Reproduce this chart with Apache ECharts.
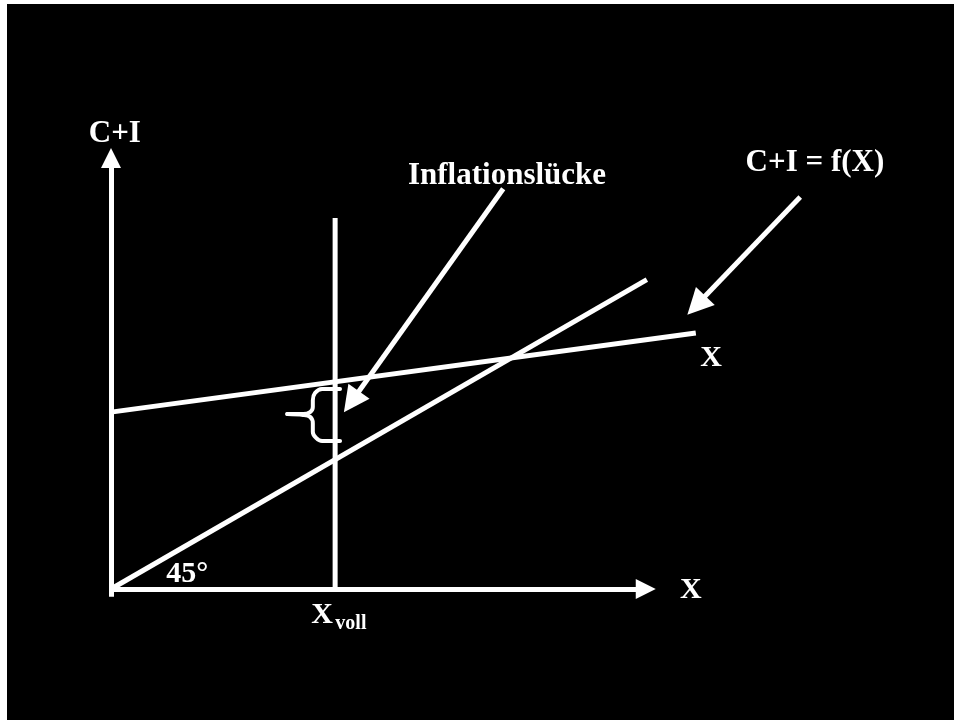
<!DOCTYPE html>
<html>
<head>
<meta charset="utf-8">
<script src="https://cdn.jsdelivr.net/npm/echarts@6/dist/echarts.min.js"></script>
<style>
  html, body { margin: 0; padding: 0; background: #fff; }
  #chart { position: absolute; left: 7px; top: 4px; width: 947px; height: 716px; background: #000; }
</style>
</head>
<body>
<div id="chart"></div>
<script>
// axes (shaft ends, arrowheads are added by the symbol)
const axisX = [[0, 0], [98.3, 0]];
const axisY = [[0, -2.5], [0, 137.2]];

// 45° line, aggregate demand C+I = f(X), full-employment output
const line45 = [[0, 0], [98.5, 98.5]];
const demandLine = [[0, 56.3], [107.5, 81.5]];
const fullEmployment = [[41.2, 0], [41.2, 118.1]];

// brace marking the gap
const braceTop = [[42.1, 63.7], [38.8, 63.7], [37.5, 62.4], [37.1, 60.1], [37.1, 57.9], [36.6, 56.3], [35.3, 55.7], [32.4, 55.7]];
const braceBottom = [[32.4, 55.7], [35.3, 55.4], [36.6, 54.8], [37.1, 52.8], [37.1, 50.0], [37.7, 48.1], [38.8, 47.1], [42.1, 47.1]];

// pointer arrows
const gapArrow = [[72.1, 127.4], [44.2, 59.6]];
const demandArrow = [[126.7, 124.8], [107.6, 90.3]];

// annotations
const labelTexts = ['C+I', 'Inflationslücke', 'C+I = f(X)', 'X', 'X', '45°', 'X'];
const labelAnchors = [[0.7, 144.9], [72.8, 131.6], [129.4, 135.6], [110.3, 73.5], [106.6, -0.3], [14.0, 4.8], [38.8, -8.3]];
const subText = 'voll';
const subAnchor = [44.1, -11.1];

const chart = echarts.init(document.getElementById('chart'));

const white = '#ffffff';
const font = '"Liberation Serif", "Times New Roman", serif';

function plainLine(data, width) {
  return {
    type: 'line',
    data: data,
    showSymbol: false,
    symbol: 'none',
    clip: false,
    silent: true,
    lineStyle: { color: white, width: width || 5, cap: 'butt' },
  };
}

function braceLine(data) {
  return {
    type: 'line',
    data: data,
    smooth: 0.35,
    showSymbol: false,
    symbol: 'none',
    clip: false,
    silent: true,
    lineStyle: { color: white, width: 4, cap: 'round', join: 'round' },
  };
}

function arrowLines(list, size) {
  return {
    type: 'lines',
    coordinateSystem: 'cartesian2d',
    clip: false,
    silent: true,
    symbol: ['none', 'triangle'],
    symbolSize: size,
    lineStyle: { color: white, width: 5, opacity: 1, curveness: 0 },
    itemStyle: { color: white, opacity: 1 },
    data: list.map((coords) => ({ coords })),
  };
}

const labelData = labelTexts.map((text, i) => ({
  value: labelAnchors[i],
  label: { formatter: text, fontSize: text === 'X' || text === '45°' ? 30 : 31 },
}));
labelData.push({ value: subAnchor, label: { formatter: subText, fontSize: 20 } });

chart.setOption({
  backgroundColor: '#000',
  animation: false,
  grid: { left: 49.6, top: 51, width: 870.4, height: 596.8 },
  xAxis: { type: 'value', min: -10, max: 150, show: false },
  yAxis: { type: 'value', min: -20, max: 170, show: false },
  series: [
    arrowLines([axisX, axisY], 20),
    plainLine(line45),
    plainLine(demandLine),
    plainLine(fullEmployment),
    braceLine(braceTop),
    braceLine(braceBottom),
    arrowLines([gapArrow, demandArrow], 26),
    {
      type: 'scatter',
      symbolSize: 0,
      clip: false,
      silent: true,
      itemStyle: { opacity: 1, color: '#000' },
      data: labelData,
      label: {
        show: true,
        position: 'inside',
        color: white,
        opacity: 1,
        textBorderWidth: 0,
        fontFamily: font,
        fontWeight: 'bold',
      },
    },
  ],
});
</script>
</body>
</html>
